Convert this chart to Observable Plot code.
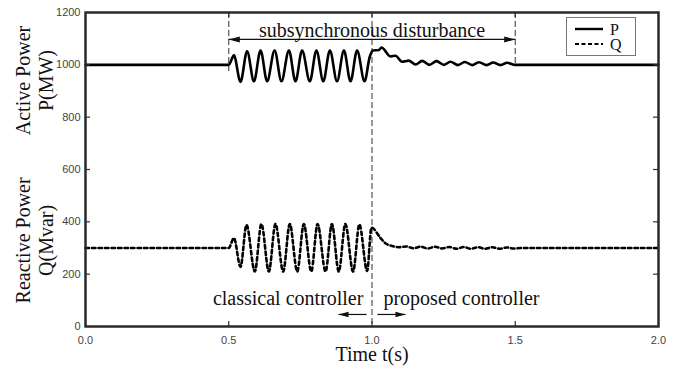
<!DOCTYPE html>
<html>
<head>
<meta charset="utf-8">
<script src="https://cdn.jsdelivr.net/npm/d3@7"></script>
<script src="https://cdn.jsdelivr.net/npm/@observablehq/plot@0.6"></script>
<style>
  html, body { margin: 0; padding: 0; background: #fff; }
  #wrap { position: relative; width: 687px; height: 367px; }
  #legend { position: absolute; left: 566px; top: 17px; width: 68px; height: 37px; border: 1px solid #777; background: #fff; box-sizing: content-box; }
</style>
</head>
<body>
<div id="wrap"></div>
<script>
// ---- data ----
const timeP = [0, 0.5, 0.518, 0.541, 0.564, 0.588, 0.611, 0.634, 0.660, 0.684, 0.710, 0.733, 0.756, 0.783, 0.806, 0.830, 0.853, 0.878, 0.902, 0.925, 0.948, 0.974, 0.992, 1.003, 1.024, 1.033, 1.065, 1.082, 1.105, 1.128, 1.152, 1.175, 1.200, 1.225, 1.251, 1.274, 1.300, 1.324, 1.350, 1.373, 1.400, 1.423, 1.449, 1.472, 1.497, 2.0];
const powerP = [1000, 1000, 1036, 935, 1052, 937, 1055, 937, 1055, 937, 1055, 937, 1055, 937, 1055, 937, 1055, 937, 1055, 937, 1055, 937, 1030, 1055, 1057, 1066, 1032, 1035, 1012, 1016, 1001, 1015, 1000, 1014, 1000, 1012, 999, 1011, 999, 1010, 999, 1009, 999, 1008, 1000, 1000];

const timeQ = [0, 0.5, 0.518, 0.541, 0.562, 0.591, 0.614, 0.640, 0.663, 0.690, 0.713, 0.739, 0.762, 0.788, 0.810, 0.838, 0.860, 0.884, 0.907, 0.934, 0.956, 0.983, 0.998, 1.03, 1.047, 1.07, 1.093, 1.12, 1.145, 1.17, 1.195, 1.22, 1.245, 1.27, 1.295, 1.32, 1.345, 1.37, 1.395, 1.42, 1.445, 1.47, 1.495, 1.52, 2.0];
const powerQ = [300, 300, 338, 228, 388, 210, 392, 210, 392, 210, 392, 210, 392, 210, 392, 210, 392, 210, 392, 210, 390, 212, 378, 338, 318, 308, 303, 306, 299, 305, 298, 305, 298, 304, 297, 304, 297, 303, 297, 303, 297, 302, 298, 300, 300];

const xTicks = [0, 0.5, 1.0, 1.5, 2.0];
const yTicks = [0, 200, 400, 600, 800, 1000, 1200];
const eventTimes = [0.5, 1.0, 1.5];
const eventLineBottoms = [975, 0, 1000];

const seriesNames = ["P", "Q"];
const yLabels = ["Active Power\nP(MW)", "Reactive Power\nQ(Mvar)"];
const yLabelCenters = [940, 329];
const xLabel = "Time t(s)";
const topNote = "subsynchronous disturbance";
const bottomNotes = ["classical controller", "proposed controller"];

// annotation anchor values (data space)
const spanArrow = {from: 0.5, to: 1.5, level: 1097};
const topNoteAt = {x: 1.0, y: 1132};
const bottomNoteAt = {left: 0.970, right: 1.040, y: 108};
const ctrlArrows = [{from: 0.981, to: 0.883}, {from: 1.019, to: 1.117}];
const ctrlArrowLevel = 46;

// ---- build tables ----
const dataP = timeP.map((t, i) => ({t, v: powerP[i]}));
const dataQ = timeQ.map((t, i) => ({t, v: powerQ[i]}));
const rules = eventTimes.map((t, i) => ({t, y1: 1200, y2: eventLineBottoms[i]}));

const serif = "'Liberation Serif', 'Times New Roman', Times, serif";
const sans = "'Liberation Sans', Arial, Helvetica, sans-serif";

// elongated filled arrowheads (tip at the data point)
const headRight = {draw(ctx, size) { const r = Math.sqrt(size / Math.PI); const L = 2.4 * r, W = 0.65 * r; ctx.moveTo(0, 0); ctx.lineTo(-L, -W); ctx.lineTo(-L, W); ctx.closePath(); }};
const headLeft = {draw(ctx, size) { const r = Math.sqrt(size / Math.PI); const L = 2.4 * r, W = 0.65 * r; ctx.moveTo(0, 0); ctx.lineTo(L, -W); ctx.lineTo(L, W); ctx.closePath(); }};

const W = 687, H = 367, mL = 85, mR = 29, mT = 12, mB = 41;
const fw = W - mL - mR, fh = H - mT - mB;
const tickLen = 5;

const plot = Plot.plot({
  width: W, height: H,
  marginLeft: mL, marginRight: mR, marginTop: mT, marginBottom: mB,
  x: {domain: [0, 2]},
  y: {domain: [0, 1200]},
  style: {background: "#fff", fontFamily: sans, fontSize: "11px", overflow: "visible"},
  marks: [
    // event lines
    Plot.ruleX(rules, {x: "t", y1: "y1", y2: "y2", stroke: "#555", strokeWidth: 1.2, strokeDasharray: "6,3"}),
    // series
    Plot.line(dataQ, {x: "t", y: "v", curve: "monotone-x", stroke: "#000", strokeWidth: 2.6, strokeDasharray: "3.5,3"}),
    Plot.line(dataP, {x: "t", y: "v", curve: "monotone-x", stroke: "#000", strokeWidth: 2.6}),
    // inward ticks
    Plot.tickX(xTicks.slice(1, -1), {x: d => d, insetTop: fh - tickLen, stroke: "#333", strokeWidth: 1.2}),
    Plot.tickX(xTicks.slice(1, -1), {x: d => d, insetBottom: fh - tickLen, stroke: "#333", strokeWidth: 1.2}),
    Plot.tickY(yTicks.slice(1, -1), {y: d => d, insetRight: fw - tickLen, stroke: "#333", strokeWidth: 1.2}),
    Plot.tickY(yTicks.slice(1, -1), {y: d => d, insetLeft: fw - tickLen, stroke: "#333", strokeWidth: 1.2}),
    Plot.frame({stroke: "#2a2a2a", strokeWidth: 2.5}),
    Plot.axisX({ticks: xTicks, tickFormat: d3.format(".1f"), tickSize: 0, tickPadding: 10, fill: "#444", label: null}),
    Plot.axisY({ticks: yTicks, tickFormat: d => String(d), tickSize: 0, tickPadding: 5, fill: "#444", label: null}),
    // axis titles
    Plot.text(yLabels.map((s, i) => ({s, y: yLabelCenters[i]})), {y: "y", text: "s", frameAnchor: "left", textAnchor: "middle", rotate: -90, dx: -51, lineAnchor: "middle", lineHeight: 1.15, fontSize: 20, fontFamily: serif, fill: "#111"}),
    Plot.text([{x: 1.0, s: xLabel}], {x: "x", text: "s", frameAnchor: "bottom", textAnchor: "middle", dy: 28, lineAnchor: "middle", fontSize: 20, fontFamily: serif, fill: "#111"}),
    // top annotation
    Plot.text([{x: topNoteAt.x, y: topNoteAt.y, s: topNote}], {x: "x", y: "y", text: "s", lineAnchor: "middle", fontSize: 20, fontFamily: serif, fill: "#111"}),
    Plot.link([spanArrow], {x1: "from", x2: "to", y1: "level", y2: "level", stroke: "#111", strokeWidth: 1.2}),
    Plot.dot([{x: spanArrow.from, y: spanArrow.level}], {x: "x", y: "y", r: 4.6, symbol: headLeft, fill: "#111", stroke: "none"}),
    Plot.dot([{x: spanArrow.to, y: spanArrow.level}], {x: "x", y: "y", r: 4.6, symbol: headRight, fill: "#111", stroke: "none"}),
    // bottom annotations
    Plot.text([{x: bottomNoteAt.left, y: bottomNoteAt.y, s: bottomNotes[0]}], {x: "x", y: "y", text: "s", textAnchor: "end", lineAnchor: "middle", fontSize: 20, fontFamily: serif, fill: "#111"}),
    Plot.text([{x: bottomNoteAt.right, y: bottomNoteAt.y, s: bottomNotes[1]}], {x: "x", y: "y", text: "s", textAnchor: "start", lineAnchor: "middle", fontSize: 20, fontFamily: serif, fill: "#111"}),
    Plot.link(ctrlArrows, {x1: "from", x2: "to", y1: () => ctrlArrowLevel, y2: () => ctrlArrowLevel, stroke: "#111", strokeWidth: 1.2}),
    Plot.dot([ctrlArrows[0]], {x: "to", y: () => ctrlArrowLevel, r: 4.2, symbol: headLeft, fill: "#111", stroke: "none"}),
    Plot.dot([ctrlArrows[1]], {x: "to", y: () => ctrlArrowLevel, r: 4.2, symbol: headRight, fill: "#111", stroke: "none"})
  ]
});

const wrap = document.getElementById("wrap");
wrap.appendChild(plot);

// legend overlay (inside the frame, top right)
const legend = document.createElement("div");
legend.id = "legend";
const ns = "http://www.w3.org/2000/svg";
const lsvg = document.createElementNS(ns, "svg");
lsvg.setAttribute("width", 68); lsvg.setAttribute("height", 37);
seriesNames.forEach((name, i) => {
  const y = 11 + i * 15;
  const ln = document.createElementNS(ns, "line");
  ln.setAttribute("x1", 8); ln.setAttribute("x2", 36);
  ln.setAttribute("y1", y); ln.setAttribute("y2", y);
  ln.setAttribute("stroke", "#000"); ln.setAttribute("stroke-width", i === 0 ? 2.4 : 2);
  if (i === 1) ln.setAttribute("stroke-dasharray", "4,2.5");
  lsvg.appendChild(ln);
  const tx = document.createElementNS(ns, "text");
  tx.setAttribute("x", 43); tx.setAttribute("y", y + 5.5);
  tx.setAttribute("font-family", serif); tx.setAttribute("font-size", "16");
  tx.setAttribute("fill", "#111");
  tx.textContent = name;
  lsvg.appendChild(tx);
});
legend.appendChild(lsvg);
wrap.appendChild(legend);
</script>
</body>
</html>
